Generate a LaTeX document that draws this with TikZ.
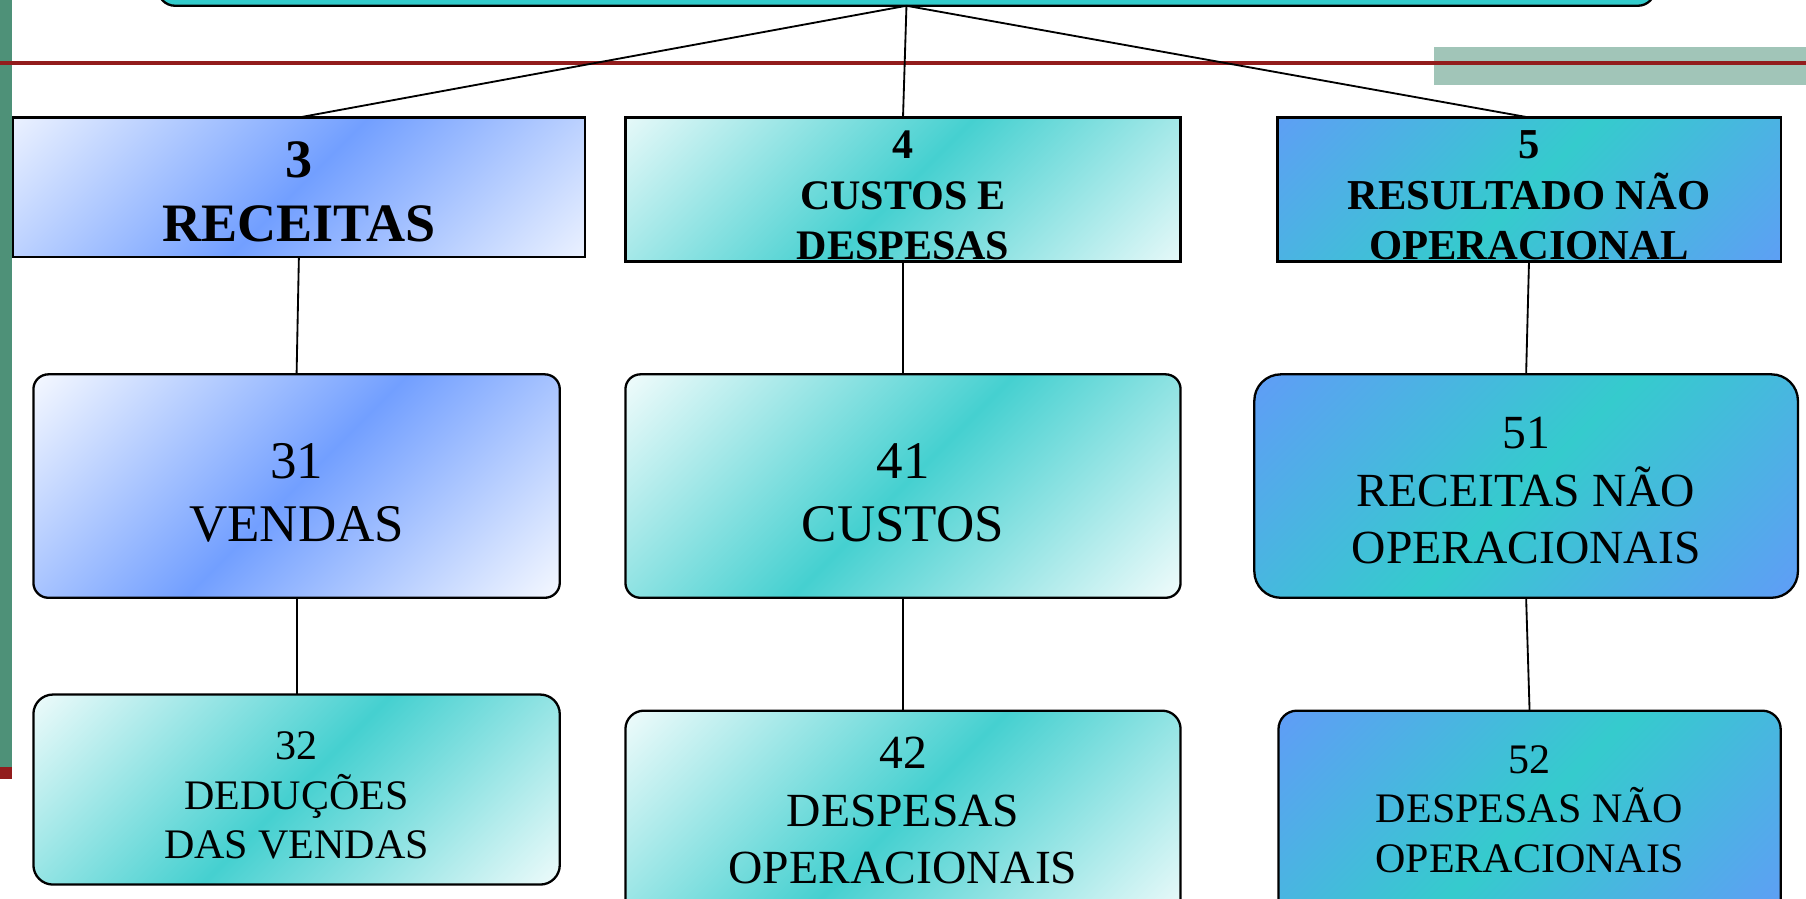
\documentclass[tikz,border=0pt]{standalone}
\usepackage{fontspec}
\setmainfont{Liberation Serif}
\usetikzlibrary{calc}

\definecolor{sidegreen}{HTML}{4E9178}
\definecolor{sagebar}{HTML}{A1C5B8}
\definecolor{rulered}{HTML}{921C1C}
\definecolor{topteal}{HTML}{33CCCC}
\definecolor{skyblue}{HTML}{729FFF}
\definecolor{tealmid}{HTML}{45D0D0}
\definecolor{blueedge}{HTML}{6399FA}
\definecolor{tealcore}{HTML}{35CBCD}

\tikzset{
  % diagonal three-stop gradient at a true 45 degrees, clipped to the box
  diag/.style 2 args={path picture={
    \shade[left color=#1, right color=#1, middle color=#2, shading angle=45]
      let \p1=(path picture bounding box.south west),
          \p2=(path picture bounding box.north east),
          \n1={veclen(\x2-\x1,\y2-\y1)/2} in
      (path picture bounding box.center) circle[radius=\n1];
  }},
  box/.style={draw=black, line width=2pt, inner sep=0pt, outer sep=0pt},
  txt/.style={align=center, inner sep=0pt, text=black},
  conn/.style={draw=black, line width=1.6pt},
}

\begin{document}
\begin{tikzpicture}[x=1pt, y=-1pt]
\useasboundingbox (0,0) rectangle (1568,780);
\clip (0,0) rectangle (1568,780);

% slide decorations
\fill[sidegreen] (0,0) rectangle (10,666);
\fill[rulered] (0,666) rectangle (10,676);
\fill[sagebar] (1245,41) rectangle (1568,74);
\draw[rulered, line width=3.5pt] (0,55) -- (1568,55);

% top-level box (partly off the page)
\node[box, fill=topteal, rounded corners=15pt, minimum width=1300pt, minimum height=80pt] (top) at (787,-35) {};

% second row
\node[box, minimum width=497pt, minimum height=121pt, diag={white}{skyblue}] (b3) at (259.5,162.5) {};
\node[box, minimum width=482pt, minimum height=125pt, diag={white}{tealmid}] (b4) at (784,164.5) {};
\node[box, minimum width=437pt, minimum height=125pt, diag={blueedge}{tealcore}] (b5) at (1327.5,164.5) {};

% third row
\node[box, rounded corners=13pt, minimum width=457pt, minimum height=194pt, diag={white}{skyblue}] (b31) at (257.5,422) {};
\node[box, rounded corners=13pt, minimum width=482pt, minimum height=194pt, diag={white}{tealmid}] (b41) at (784,422) {};
\node[box, rounded corners=23pt, minimum width=472pt, minimum height=194pt, diag={blueedge}{tealcore}] (b51) at (1325,422) {};

% fourth row
\node[box, rounded corners=17pt, minimum width=457pt, minimum height=165pt, diag={white}{tealmid}] (b32) at (257.5,685.5) {};
\node[box, rounded corners=16pt, minimum width=482pt, minimum height=183pt, diag={white}{tealmid}] (b42) at (784,708.5) {};
\node[box, rounded corners=16pt, minimum width=436pt, minimum height=183pt, diag={blueedge}{tealcore}] (b52) at (1328,708.5) {};

% labels
\node[txt, font=\fontsize{47}{55}\selectfont\bfseries] (t3) at (259.5,166.6) {3\\RECEITAS};
\node[txt, font=\fontsize{36.5}{44}\selectfont\bfseries] (t4) at (784,169.7) {4\\CUSTOS E\\DESPESAS};
\node[txt, font=\fontsize{37}{44}\selectfont\bfseries] (t5) at (1327.5,169.7) {5\\RESULTADO NÃO\\OPERACIONAL};

\node[txt, font=\fontsize{46}{55}\selectfont] (t31) at (257.5,428) {31\\VENDAS};
\node[txt, font=\fontsize{46}{55}\selectfont] (t41) at (784,428) {41\\CUSTOS};
\node[txt, font=\fontsize{41.3}{50}\selectfont] (t51) at (1325,426) {51\\RECEITAS NÃO\\OPERACIONAIS};

\node[txt, font=\fontsize{36.5}{43}\selectfont] (t32) at (257.5,690.6) {32\\DEDUÇÕES\\DAS VENDAS};
\node[txt, font=\fontsize{41.3}{50}\selectfont] (t42) at (784,704) {42\\DESPESAS\\OPERACIONAIS};
\node[txt, font=\fontsize{36.5}{43}\selectfont] (t52) at (1328,702.6) {52\\DESPESAS NÃO\\OPERACIONAIS};

% connectors
\draw[conn] (top.south) -- (b3.north);
\draw[conn] (top.south) -- (b4.north);
\draw[conn] (top.south) -- (b5.north);
\draw[conn] (b3.south) -- (b31.north);
\draw[conn] (b31.south) -- (b32.north);
\draw[conn] (b4.south) -- (b41.north);
\draw[conn] (b41.south) -- (b42.north);
\draw[conn] (b5.south) -- (b51.north);
\draw[conn] (b51.south) -- (b52.north);
\end{tikzpicture}
\end{document}
